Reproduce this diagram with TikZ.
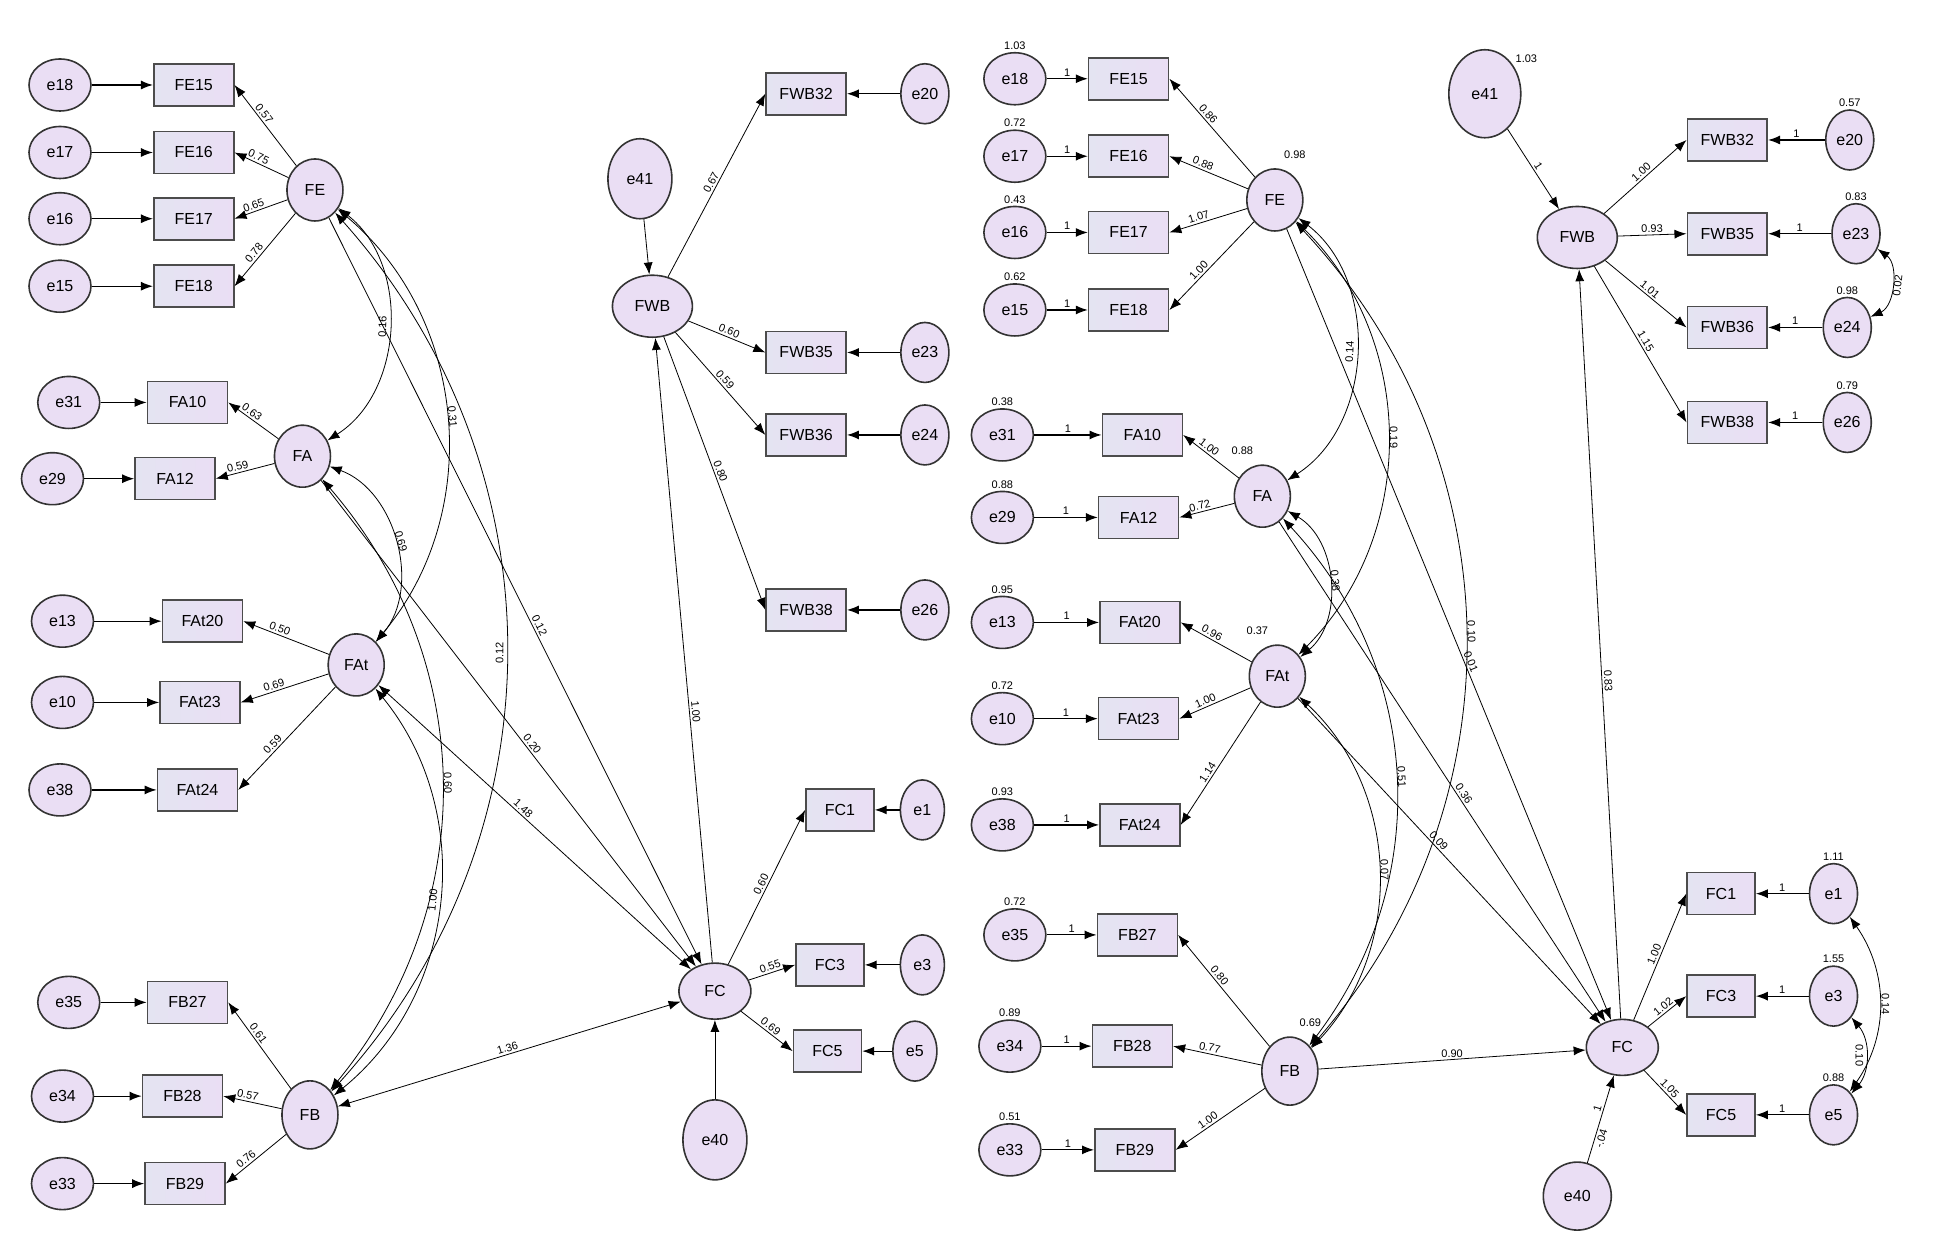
\documentclass[tikz,border=0pt]{standalone}
\usepackage{fontspec}
\setmainfont{Liberation Sans}
\usetikzlibrary{arrows.meta,shapes.geometric}
\definecolor{lav}{RGB}{234,222,244}
\definecolor{lavb}{RGB}{228,228,242}
\begin{document}
\begin{tikzpicture}[x=0.625pt,y=-0.625pt,
  every node/.style={font=\fontsize{8}{9}\selectfont},
  lat/.style={ellipse,draw=black!80,thick,fill=lav,minimum width=28pt,minimum height=31pt,inner sep=0pt},
  err/.style={ellipse,draw=black!80,thick,fill=lav,minimum width=31pt,minimum height=26pt,inner sep=0pt},
  obs/.style={rectangle,draw=black!70,thick,left color=lavb,right color=lav,minimum width=40pt,minimum height=21pt,inner sep=1pt},
  lab/.style={font=\fontsize{5.5}{6}\selectfont,inner sep=1pt},
  vl/.style={lab,label distance=4pt},
  ar/.style={-{Latex[length=6pt,width=4.5pt]},thin},
  eb/.style={-{Latex[length=6pt,width=4.5pt]},semithick},
  cv/.style={{Latex[length=6pt,width=4.5pt]}-{Latex[length=6pt,width=4.5pt]},thin},
  ll/.style={lab,sloped,above,pos=0.6}]
\useasboundingbox (0,0) rectangle (1549,1001);
\clip (0,0) rectangle (1549,1001);
% ================= LEFT =================
\node[lat] (LFE) at (252,152) {FE};
\node[lat] (LFA) at (242,365) {FA};
\node[lat] (LFAt) at (285,532) {FAt};
\node[lat,minimum height=34pt] (LFB) at (248,892) {FB};
\node[lat,minimum width=40pt] (LFWB) at (522,245) {FWB};
\node[lat,minimum width=36pt,minimum height=28pt] (LFC) at (572,793) {FC};
\node[err,minimum width=32pt,minimum height=40pt] (Le41) at (512,143) {e41};
\node[err,minimum width=32pt,minimum height=40pt] (Le40) at (572,912) {e40};
\foreach \n/\e/\x/\ex/\y in {FE15/e18/155/48/68,FE16/e17/155/48/122,FE17/e16/155/48/175,FE18/e15/155/48/229,
  FA10/e31/150/55/322,FA12/e29/140/42/383,FAt20/e13/162/50/497,FAt23/e10/160/50/562,FAt24/e38/158/48/632,
  FB27/e35/150/55/802,FB28/e34/146/50/877,FB29/e33/148/50/947}{
  \node[obs] (L\n) at (\x,\y) {\n};
  \node[err] (L\e) at (\ex,\y) {\e};
  \draw[eb] (L\e) -- (L\n);}
\foreach \n/\e/\y in {FWB32/e20/75,FWB35/e23/282,FWB36/e24/348,FWB38/e26/488}{
  \node[obs] (L\n) at (645,\y) {\n};
  \node[err,minimum width=24pt,minimum height=30pt] (L\e) at (740,\y) {\e};
  \draw[eb] (L\e) -- (L\n);}
\foreach \n/\e/\x/\ex/\y in {FC1/e1/672/738/648,FC3/e3/664/738/772,FC5/e5/662/732/841}{
  \node[obs,minimum width=34pt] (L\n) at (\x,\y) {\n};
  \node[err,minimum width=22pt,minimum height=30pt] (L\e) at (\ex,\y) {\e};
  \draw[eb] (L\e) -- (L\n);}
\draw[ar] (LFE) -- node[ll]{0.57} (LFE15.east);
\draw[ar] (LFE) -- node[ll]{0.75} (LFE16.east);
\draw[ar] (LFE) -- node[ll]{0.65} (LFE17.east);
\draw[ar] (LFE) -- node[ll]{0.78} (LFE18.east);
\draw[ar] (LFA) -- node[ll]{0.63} (LFA10.east);
\draw[ar] (LFA) -- node[ll]{0.59} (LFA12.east);
\draw[ar] (LFAt) -- node[ll]{0.50} (LFAt20.east);
\draw[ar] (LFAt) -- node[ll]{0.69} (LFAt23.east);
\draw[ar] (LFAt) -- node[ll]{0.59} (LFAt24.east);
\draw[ar] (LFB) -- node[ll]{0.61} (LFB27.east);
\draw[ar] (LFB) -- node[ll]{0.57} (LFB28.east);
\draw[ar] (LFB) -- node[ll]{0.76} (LFB29.east);
\draw[ar] (LFWB) -- node[lab,sloped,above]{0.67} (LFWB32.west);
\draw[ar] (LFWB) -- node[lab,sloped,above]{0.60} (LFWB35.west);
\draw[ar] (LFWB) -- node[lab,sloped,above]{0.59} (LFWB36.west);
\draw[ar] (LFWB) -- node[lab,sloped,above]{0.80} (LFWB38.west);
\draw[ar] (LFC) -- node[lab,sloped,above]{0.60} (LFC1.west);
\draw[ar] (LFC) -- node[lab,sloped,above]{0.55} (LFC3.west);
\draw[ar] (LFC) -- node[lab,sloped,above]{0.69} (LFC5.west);
\draw[ar] (Le41) -- (LFWB);
\draw[ar] (Le40) -- (LFC);
\draw[ar] (LFC) -- node[lab,sloped,above,pos=0.4]{1.00} (LFWB);
\draw[ar] (LFE) -- node[lab,sloped,above,pos=0.55]{0.12} (LFC);
\draw[ar] (LFA) -- node[lab,sloped,above,pos=0.55]{0.20} (LFC);
\draw[cv] (LFAt) -- node[lab,sloped,above,pos=0.45]{1.48} (LFC);
\draw[cv] (LFB) -- node[lab,sloped,above]{1.36} (LFC);
\draw[cv] (LFE) to[bend left=55] node[lab,sloped,above]{0.16} (LFA);
\draw[cv] (LFE) to[bend left=45] node[lab,sloped,above]{0.31} (LFAt);
\draw[cv] (LFE) to[bend left=42] node[lab,sloped,above]{0.12} (LFB);
\draw[cv] (LFA) to[bend left=55] node[lab,sloped,above]{0.69} (LFAt);
\draw[cv] (LFA) to[bend left=40] node[lab,sloped,above]{0.60} (LFB);
\draw[cv] (LFAt) to[bend left=45] node[lab,sloped,above]{1.00} (LFB);
% ================= RIGHT =================
\node[lat,label={[vl]80:0.98}] (RFE) at (1020,160) {FE};
\node[lat,label={[vl]100:0.88}] (RFA) at (1010,397) {FA};
\node[lat,label={[vl]100:0.37}] (RFAt) at (1022,541) {FAt};
\node[lat,minimum height=34pt,label={[vl]80:0.69}] (RFB) at (1032,857) {FB};
\node[lat,minimum width=40pt] (RFWB) at (1262,190) {FWB};
\node[lat,minimum width=36pt,minimum height=28pt] (RFC) at (1298,838) {FC};
\node[err,minimum width=36pt,minimum height=44pt,label={[lab]above right:1.03}] (Re41) at (1188,75) {e41};
\node[err,minimum width=34pt,minimum height=34pt] (Re40) at (1262,957) {e40};
\foreach \n/\e/\x/\ex/\y/\v in {FE15/e18/903/812/63/1.03,FE16/e17/903/812/125/0.72,FE17/e16/903/812/186/0.43,FE18/e15/903/812/248/0.62,
  FA10/e31/914/802/348/0.38,FA12/e29/911/802/414/0.88,FAt20/e13/912/802/498/0.95,FAt23/e10/911/802/575/0.72,FAt24/e38/912/802/660/0.93,
  FB27/e35/910/812/748/0.72,FB28/e34/906/808/837/0.89,FB29/e33/908/808/920/0.51}{
  \node[obs] (R\n) at (\x,\y) {\n};
  \node[err,label={[lab]above:\v}] (R\e) at (\ex,\y) {\e};
  \draw[eb] (R\e) -- node[lab,above]{1} (R\n);}
\foreach \n/\e/\y/\ex/\v in {FWB32/e20/112/1480/0.57,FWB35/e23/187/1485/0.83,FWB36/e24/262/1478/0.98,FWB38/e26/338/1478/0.79}{
  \node[obs] (R\n) at (1382,\y) {\n};
  \node[err,minimum width=24pt,minimum height=30pt,label={[lab]above:\v}] (R\e) at (\ex,\y) {\e};
  \draw[eb] (R\e) -- node[lab,above]{1} (R\n);}
\foreach \n/\e/\y/\v in {FC1/e1/715/1.11,FC3/e3/797/1.55,FC5/e5/892/0.88}{
  \node[obs,minimum width=34pt] (R\n) at (1377,\y) {\n};
  \node[err,minimum width=24pt,minimum height=30pt,label={[lab]above:\v}] (R\e) at (1467,\y) {\e};
  \draw[eb] (R\e) -- node[lab,above]{1} (R\n);}
\draw[ar] (RFE) -- node[ll]{0.86} (RFE15.east);
\draw[ar] (RFE) -- node[ll]{0.88} (RFE16.east);
\draw[ar] (RFE) -- node[ll]{1.07} (RFE17.east);
\draw[ar] (RFE) -- node[ll]{1.00} (RFE18.east);
\draw[ar] (RFA) -- node[ll]{1.00} (RFA10.east);
\draw[ar] (RFA) -- node[ll]{0.72} (RFA12.east);
\draw[ar] (RFAt) -- node[ll]{0.96} (RFAt20.east);
\draw[ar] (RFAt) -- node[ll]{1.00} (RFAt23.east);
\draw[ar] (RFAt) -- node[ll]{1.14} (RFAt24.east);
\draw[ar] (RFB) -- node[ll]{0.80} (RFB27.east);
\draw[ar] (RFB) -- node[ll]{0.77} (RFB28.east);
\draw[ar] (RFB) -- node[ll]{1.00} (RFB29.east);
\draw[ar] (RFWB) -- node[lab,sloped,above]{1.00} (RFWB32.west);
\draw[ar] (RFWB) -- node[lab,sloped,above]{0.93} (RFWB35.west);
\draw[ar] (RFWB) -- node[lab,sloped,above]{1.01} (RFWB36.west);
\draw[ar] (RFWB) -- node[lab,sloped,above]{1.15} (RFWB38.west);
\draw[ar] (RFC) -- node[lab,sloped,above]{1.00} (RFC1.west);
\draw[ar] (RFC) -- node[lab,sloped,above]{1.02} (RFC3.west);
\draw[ar] (RFC) -- node[lab,sloped,above]{1.05} (RFC5.west);
\draw[ar] (Re41) -- node[lab,sloped,above]{1} (RFWB);
\draw[ar] (Re40) -- node[lab,sloped,above,pos=0.6]{1} node[lab,sloped,below,pos=0.3]{-.04} (RFC);
\draw[ar] (RFC) -- node[lab,sloped,above,pos=0.45]{0.83} (RFWB);
\draw[ar] (RFE) -- node[lab,sloped,above,pos=0.55]{0.01} (RFC);
\draw[ar] (RFA) -- node[lab,sloped,above,pos=0.55]{0.36} (RFC);
\draw[ar] (RFAt) -- node[lab,sloped,above,pos=0.45]{0.09} (RFC);
\draw[ar] (RFB) -- node[lab,above]{0.90} (RFC);
\draw[cv] (RFE) to[bend left=55] node[lab,sloped,above]{0.14} (RFA);
\draw[cv] (RFE) to[bend left=45] node[lab,sloped,above]{0.19} (RFAt);
\draw[cv] (RFE) to[bend left=42] node[lab,sloped,above]{0.10} (RFB);
\draw[cv] (RFA) to[bend left=55] node[lab,sloped,above]{0.38} (RFAt);
\draw[cv] (RFA) to[bend left=40] node[lab,sloped,above]{0.51} (RFB);
\draw[cv] (RFAt) to[bend left=45] node[lab,sloped,above]{0.07} (RFB);
\draw[cv] (Re23) to[bend left=60] node[lab,sloped,below]{0.02} (Re24);
\draw[cv] (Re1) to[bend left=35] node[lab,sloped,above]{0.14} (Re5);
\draw[cv] (Re3) to[bend left=40] node[lab,sloped,below]{0.10} (Re5);
\end{tikzpicture}
\end{document}
